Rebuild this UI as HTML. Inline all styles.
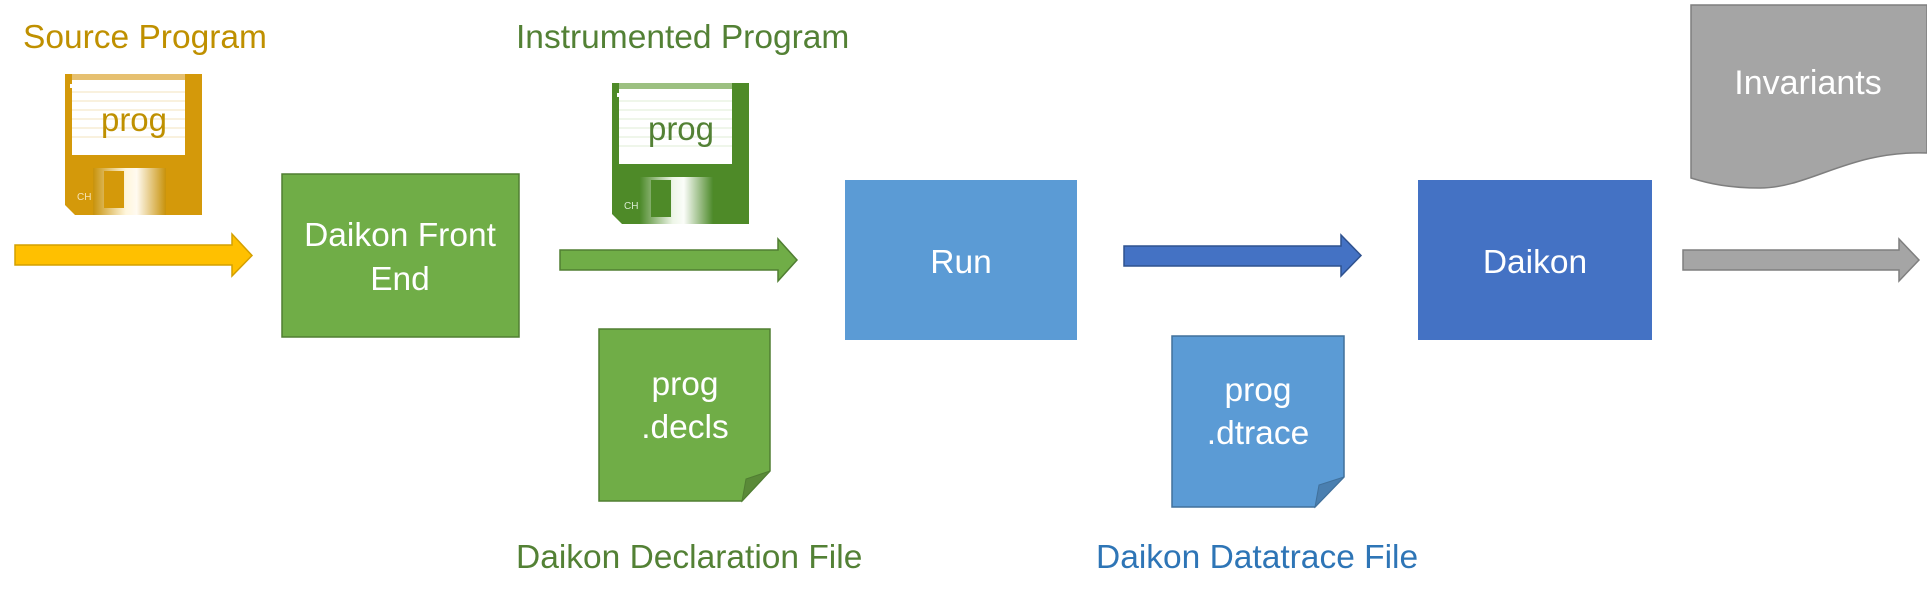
<!DOCTYPE html>
<html><head><meta charset="utf-8"><style>
html,body{margin:0;padding:0;background:#fff;}
svg{display:block;}
text{font-family:"Liberation Sans",sans-serif;}
</style></head><body>
<svg width="1927" height="602" viewBox="0 0 1927 602" xmlns="http://www.w3.org/2000/svg">
<defs>
<linearGradient id="shG" x1="0" x2="1">
<stop offset="0" stop-color="#c8920a"/><stop offset="0.45" stop-color="#fff6dc"/><stop offset="0.6" stop-color="#fffaf0"/><stop offset="1" stop-color="#c8920a"/>
</linearGradient>
<linearGradient id="shG2" x1="0" x2="1">
<stop offset="0" stop-color="#4d8a2a"/><stop offset="0.45" stop-color="#eef6e8"/><stop offset="0.6" stop-color="#fbfdf9"/><stop offset="1" stop-color="#4d8a2a"/>
</linearGradient>
<g id="flopLines">
<line x1="7" x2="120" y1="18" y2="18"/><line x1="7" x2="120" y1="27" y2="27"/><line x1="7" x2="120" y1="36" y2="36"/><line x1="7" x2="120" y1="45" y2="45"/><line x1="7" x2="120" y1="54" y2="54"/><line x1="7" x2="120" y1="63" y2="63"/>
</g>
</defs>

<text x="23" y="48" font-size="33.5" fill="#BF9000">Source Program</text>
<text x="516" y="48" font-size="33.5" fill="#538135">Instrumented Program</text>
<text x="516" y="568" font-size="33.5" fill="#538135">Daikon Declaration File</text>
<text x="1096" y="568" font-size="33.5" fill="#2E75B6">Daikon Datatrace File</text>

<g transform="translate(65,74)">
<path d="M0 0 H137 V141 H10 L0 131 Z" fill="#D4990A"/>
<rect x="7" y="0" width="113" height="81" fill="#fff"/>
<rect x="7" y="0" width="113" height="6" fill="#e6c070"/>
<g stroke="#f3e3bd" stroke-width="1"><use href="#flopLines"/></g>
<rect x="5" y="10" width="6" height="4" fill="#fff"/>
<rect x="28" y="94" width="73" height="47" fill="url(#shG)"/>
<rect x="39" y="97" width="20" height="37" fill="#D4990A"/>
<text x="69" y="57" font-size="33" fill="#BF9000" text-anchor="middle">prog</text>
<text x="12" y="126" font-size="10" fill="#f5e3b5">CH</text>
</g>

<g transform="translate(612,83)">
<path d="M0 0 H137 V141 H10 L0 131 Z" fill="#4E8A28"/>
<rect x="7" y="0" width="113" height="81" fill="#fff"/>
<rect x="7" y="0" width="113" height="6" fill="#9cc081"/>
<g stroke="#dfeed6" stroke-width="1"><use href="#flopLines"/></g>
<rect x="5" y="10" width="6" height="4" fill="#fff"/>
<rect x="28" y="94" width="73" height="47" fill="url(#shG2)"/>
<rect x="39" y="97" width="20" height="37" fill="#4E8A28"/>
<text x="69" y="57" font-size="33" fill="#538135" text-anchor="middle">prog</text>
<text x="12" y="126" font-size="10" fill="#d8ead0">CH</text>
</g>

<path d="M15 245 H232 V234 L252 255.5 L232 276 V265 H15 Z" fill="#FFC000" stroke="#D4A000" stroke-width="1.5"/>
<path d="M560 250 H778 V239 L797 260 L778 281 V270 H560 Z" fill="#70AD47" stroke="#507E32" stroke-width="1.5"/>
<path d="M1124 246 H1341 V235 L1361 255.5 L1341 276 V266 H1124 Z" fill="#4472C4" stroke="#2F528F" stroke-width="1.5"/>
<path d="M1683 250 H1899 V239 L1919 260 L1899 281 V270 H1683 Z" fill="#A5A5A5" stroke="#7F7F7F" stroke-width="1.5"/>

<rect x="282" y="174" width="237" height="163" fill="#70AD47" stroke="#507E32" stroke-width="1.5"/>
<text x="400" y="246" font-size="33.5" fill="#fff" text-anchor="middle">Daikon Front</text>
<text x="400" y="290" font-size="33.5" fill="#fff" text-anchor="middle">End</text>

<rect x="845" y="180" width="232" height="160" fill="#5B9BD5"/>
<text x="961" y="273" font-size="33.5" fill="#fff" text-anchor="middle">Run</text>

<rect x="1418" y="180" width="234" height="160" fill="#4472C4"/>
<text x="1535" y="273" font-size="33.5" fill="#fff" text-anchor="middle">Daikon</text>

<path d="M599 329 H770 V471 L742 501 H599 Z" fill="#70AD47" stroke="#507E32" stroke-width="1.5"/>
<path d="M770 471 L746 479 L742 501 Z" fill="#5a8a38" stroke="#507E32" stroke-width="1"/>
<text x="685" y="395" font-size="33.5" fill="#fff" text-anchor="middle">prog</text>
<text x="685" y="438" font-size="33.5" fill="#fff" text-anchor="middle">.decls</text>

<path d="M1172 336 H1344 V477 L1315 507 H1172 Z" fill="#5B9BD5" stroke="#41719C" stroke-width="1.5"/>
<path d="M1344 477 L1319 485 L1315 507 Z" fill="#4a7fb0" stroke="#41719C" stroke-width="1"/>
<text x="1258" y="401" font-size="33.5" fill="#fff" text-anchor="middle">prog</text>
<text x="1258" y="444" font-size="33.5" fill="#fff" text-anchor="middle">.dtrace</text>

<path d="M1691 5 H1927 V153 C1850 150 1810 188 1760 188 C1730 188 1710 184 1691 178 Z" fill="#A5A5A5" stroke="#7F7F7F" stroke-width="1.5"/>
<text x="1808" y="94" font-size="34" fill="#fff" text-anchor="middle">Invariants</text>
</svg>
</body></html>
